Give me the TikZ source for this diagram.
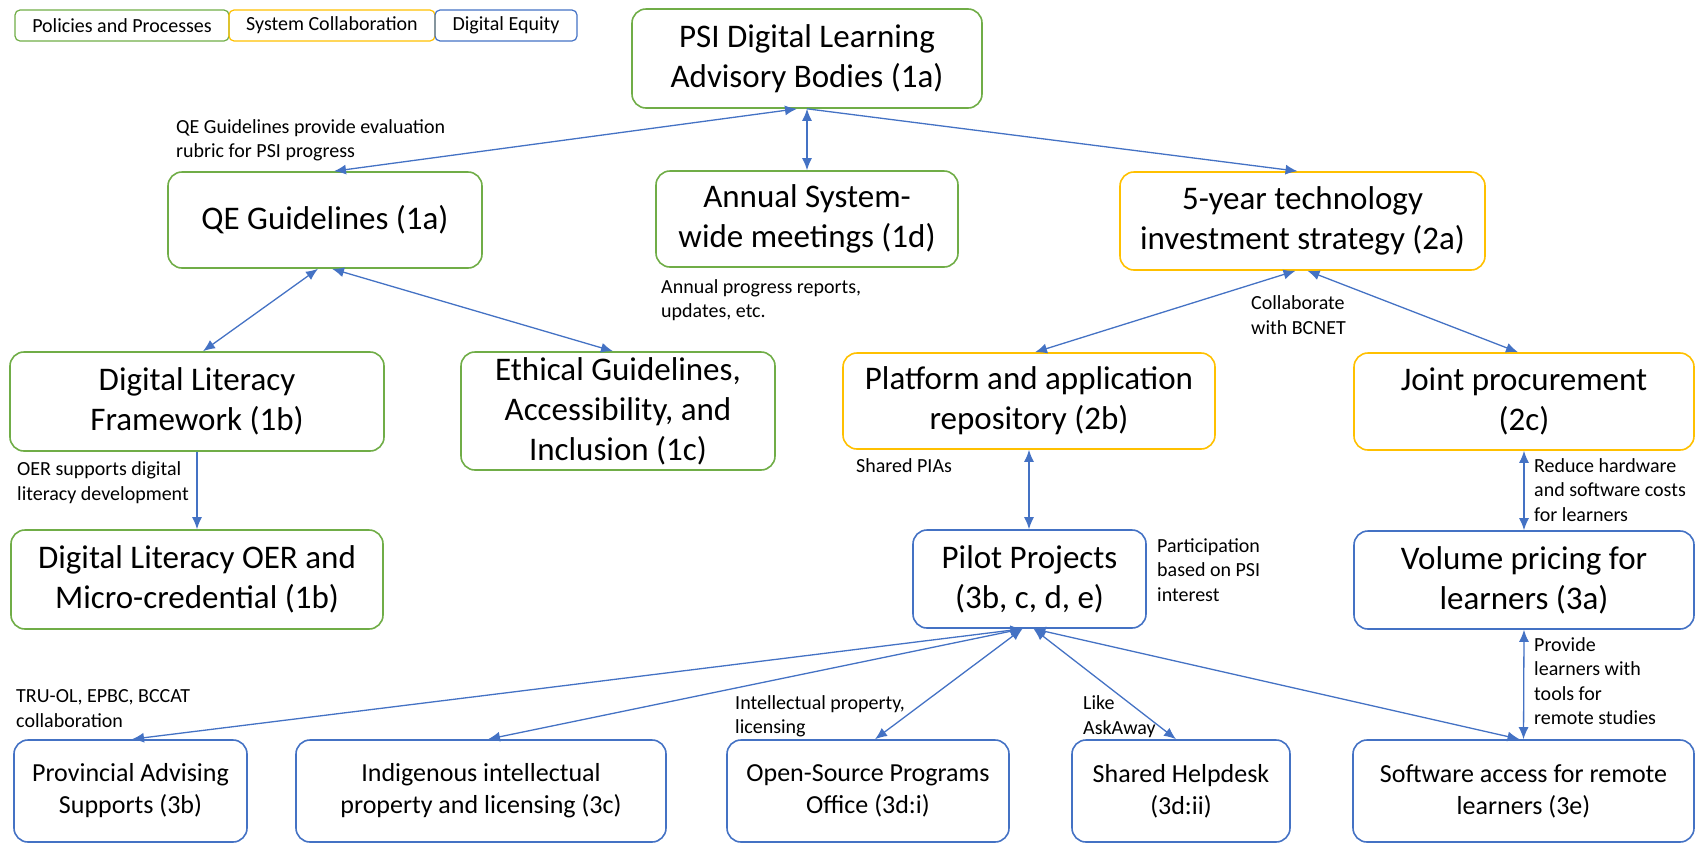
\documentclass[tikz,border=0pt]{standalone}
\usepackage{fontspec}
\setmainfont{Carlito}
\usetikzlibrary{arrows.meta,calc}
\definecolor{pgreen}{HTML}{70AD47}
\definecolor{pyellow}{HTML}{FFC000}
\definecolor{pblue}{HTML}{4472C4}
\definecolor{arrowblue}{HTML}{4472C4}
\begin{document}
\begin{tikzpicture}[x=1pt,y=-1pt,
  box/.style={draw, rounded corners=14pt, line width=1.6pt, align=center, inner sep=0pt, font=\fontsize{33}{40}\selectfont, text=black},
  gbox/.style={box, draw=pgreen},
  ybox/.style={box, draw=pyellow},
  bbox/.style={box, draw=pblue},
  sbox/.style={bbox, font=\fontsize{26}{32}\selectfont},
  leg/.style={draw, rounded corners=5pt, line width=1.2pt, inner sep=0pt, font=\fontsize{20}{24}\selectfont},
  lab/.style={align=left, inner sep=0pt, anchor=west, font=\fontsize{20}{24.5}\selectfont},
  conn/.style={draw=arrowblue, line width=1.3pt},
  both/.style={conn, {Latex[length=12pt,width=10pt]}-{Latex[length=12pt,width=10pt]}},
  one/.style={conn, -{Latex[length=12pt,width=10pt]}},
]
\useasboundingbox (0,0) rectangle (1696,844);

% legend
\node[leg, draw=pgreen, minimum width=214, minimum height=31] (lpp) at (122,25.5) {Policies and Processes};
\node[leg, draw=pyellow, minimum width=206, minimum height=31] (lsc) at (332,25.5) {System Collaboration};
\node[leg, draw=pblue, minimum width=142, minimum height=31] (lde) at (506,25.5) {Digital Equity};

% main boxes
\node[gbox, minimum width=350, minimum height=99] (psi) at (807,58.5) {PSI Digital Learning\\Advisory Bodies (1a)};
\node[gbox, minimum width=314, minimum height=96] (qe) at (325,220) {QE Guidelines (1a)};
\node[gbox, minimum width=302, minimum height=96] (annual) at (807,219) {Annual System-\\wide meetings (1d)};
\node[ybox, minimum width=365, minimum height=98] (five) at (1302.5,221) {5-year technology\\investment strategy (2a)};
\node[gbox, minimum width=374, minimum height=99] (dlf) at (197,401.5) {Digital Literacy\\Framework (1b)};
\node[gbox, minimum width=314, minimum height=118] (ethical) at (618,411) {Ethical Guidelines,\\Accessibility, and\\Inclusion (1c)};
\node[ybox, minimum width=372, minimum height=96] (platform) at (1029,401) {Platform and application\\repository (2b)};
\node[ybox, minimum width=340, minimum height=97] (joint) at (1524,401.5) {Joint procurement\\(2c)};
\node[gbox, minimum width=372, minimum height=99] (oer) at (197,579.5) {Digital Literacy OER and\\Micro-credential (1b)};
\node[bbox, minimum width=233, minimum height=98] (pilot) at (1029.5,579) {Pilot Projects\\(3b, c, d, e)};
\node[bbox, minimum width=340, minimum height=98] (volume) at (1524,580) {Volume pricing for\\learners (3a)};

% bottom row
\node[sbox, minimum width=233, minimum height=102] (prov) at (130.5,791) {Provincial Advising\\Supports (3b)};
\node[sbox, minimum width=370, minimum height=102] (indig) at (481,791) {Indigenous intellectual\\property and licensing (3c)};
\node[sbox, minimum width=282, minimum height=102] (open) at (868,791) {Open-Source Programs\\Office (3d:i)};
\node[sbox, minimum width=218, minimum height=102] (help) at (1181,791) {Shared Helpdesk\\(3d:ii)};
\node[sbox, minimum width=341, minimum height=102] (soft) at (1523.5,791) {Software access for remote\\learners (3e)};

% labels
\node[lab] (lqe) at (176,140.5) {QE Guidelines provide evaluation\\rubric for PSI progress};
\node[lab] (lann) at (661,300) {Annual progress reports,\\updates, etc.};
\node[lab] (lbc) at (1251,315) {Collaborate\\with BCNET};
\node[lab] (loer) at (17,482.5) {OER supports digital\\literacy development};
\node[lab] (lpia) at (856,466) {Shared PIAs};
\node[lab] (lpart) at (1157,570) {Participation\\based on PSI\\interest};
\node[lab] (lred) at (1534,490) {Reduce hardware\\and software costs\\for learners};
\node[lab] (lprv) at (1534,681) {Provide\\learners with\\tools for\\remote studies};
\node[lab] (ltru) at (16,708.5) {TRU-OL, EPBC, BCCAT\\collaboration};
\node[lab] (lip) at (735,716.5) {Intellectual property,\\licensing};
\node[lab] (llike) at (1083,716.5) {Like\\AskAway};

% connectors
\draw[both] ([xshift=-10]psi.south) -- ([xshift=9]qe.north);
\draw[both] (psi.south) -- (annual.north);
\draw[one] (psi.south) -- ([xshift=-5]five.north);
\draw[both] ([xshift=-7]qe.south) -- ([xshift=6]dlf.north);
\draw[both] ([xshift=7]qe.south) -- ([xshift=-5]ethical.north);
\draw[one] (dlf.south) -- (oer.north);
\draw[both] ([xshift=-7]five.south) -- ([xshift=6]platform.north);
\draw[both] ([xshift=5]five.south) -- ([xshift=-6]joint.north);
\draw[both] (platform.south) -- (platform.south |- pilot.north);
\draw[both] (joint.south) -- (volume.north);
\draw[both] (volume.south) -- (soft.north);
\draw[both] ([xshift=-7]pilot.south) -- ([xshift=1.5]prov.north);
\draw[both] ([xshift=-7]pilot.south) -- ([xshift=7]indig.north);
\draw[both] ([xshift=-7]pilot.south) -- ([xshift=7]open.north);
\draw[both] ([xshift=4]pilot.south) -- ([xshift=-5]help.north);
\draw[both] ([xshift=4]pilot.south) -- ([xshift=-4]soft.north);
\end{tikzpicture}
\end{document}
